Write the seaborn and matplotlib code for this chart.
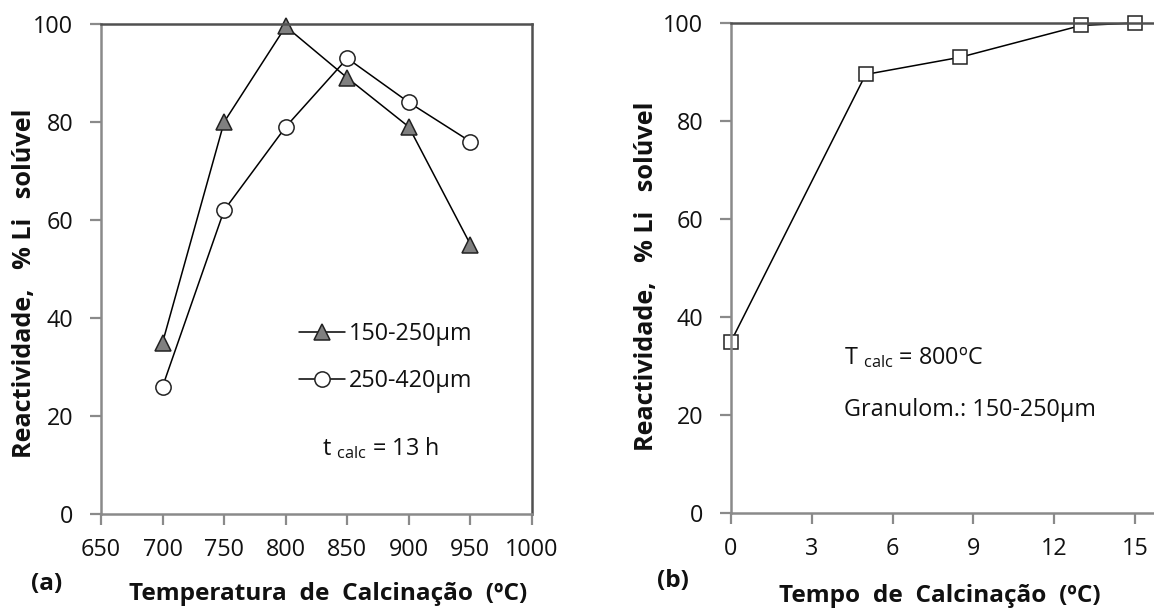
import matplotlib
matplotlib.use("Agg")
import matplotlib.pyplot as plt
import seaborn as sns
import pandas as pd

# ---- data ----
temp_c = [700, 750, 800, 850, 900, 950]
react_150_250 = [35, 80, 99.5, 89, 79, 55]
react_250_420 = [26, 62, 79, 93, 84, 76]
label_150_250 = "150-250μm"
label_250_420 = "250-420μm"

time_h = [0, 5, 8.5, 13, 15]
react_time = [35, 89.5, 93, 99.5, 100]

xticks_a = [650, 700, 750, 800, 850, 900, 950, 1000]
xticks_b = [0, 3, 6, 9, 12, 15]
yticks = [0, 20, 40, 60, 80, 100]

sns.set_theme(style="white")
FONT = ["Open Sans", "DejaVu Sans"]
plt.rcParams["font.family"] = FONT
plt.rcParams["mathtext.fontset"] = "custom"
plt.rcParams["mathtext.rm"] = "Open Sans"
plt.rcParams["mathtext.it"] = "Open Sans"

FS = 16.8
FSL = 17.6
W, H = 1154, 608
fig = plt.figure(figsize=(W / 100, H / 100), dpi=100)

ax_a = fig.add_axes([101 / W, 1 - 514 / H, 431 / W, 490 / H])
ax_b = fig.add_axes([731 / W, 1 - 513 / H, 431 / W, 490 / H])

df_a = pd.DataFrame({"T": temp_c, "r1": react_150_250, "r2": react_250_420})
df_b = pd.DataFrame({"t": time_h, "r": react_time})

sns.lineplot(data=df_a, x="T", y="r1", ax=ax_a, color="black", lw=1.1,
             marker="^", ms=11.5, markerfacecolor="#808080",
             markeredgecolor="#222222", mew=1.1, label=label_150_250,
             clip_on=False)
sns.lineplot(data=df_a, x="T", y="r2", ax=ax_a, color="black", lw=1.1,
             marker="o", ms=11, markerfacecolor="white",
             markeredgecolor="#222222", mew=1.1, label=label_250_420,
             clip_on=False)
sns.lineplot(data=df_b, x="t", y="r", ax=ax_b, color="black", lw=1.1,
             marker="s", ms=10.5, markerfacecolor="white",
             markeredgecolor="#222222", mew=1.1, clip_on=False)

def style(ax, xlim, xticks):
    ax.set_xlim(*xlim)
    ax.set_ylim(0, 100)
    ax.set_xticks(xticks)
    ax.set_yticks(yticks)
    ax.tick_params(axis="both", which="major", direction="out", length=8,
                   width=1.6, color="#8a8a8a", labelsize=FS, pad=9,
                   labelcolor="#111111")
    ax.tick_params(axis="y", pad=12)
    ax.tick_params(bottom=True, left=True)
    for side in ["left", "bottom"]:
        ax.spines[side].set_color("#8a8a8a")
        ax.spines[side].set_linewidth(1.8)
    for side in ["top", "right"]:
        ax.spines[side].set_color("#505050")
        ax.spines[side].set_linewidth(1.8)
    ax.grid(False)
    ax.set_ylabel("Reactividade,   % Li   solúvel", fontsize=FSL + 0.6,
                  fontweight="bold", color="#111111")
    ax.yaxis.label.set_va("center")
    ax.xaxis.label.set_va("center")

style(ax_a, (650, 1000), xticks_a)
style(ax_b, (0, 16), xticks_b)

ax_a.set_xlabel("Temperatura  de  Calcinação  (ºC)", fontsize=FSL,
                fontweight="bold", color="#111111")
ax_b.set_xlabel("Tempo  de  Calcinação  (ºC)", fontsize=FSL,
                fontweight="bold", color="#111111")
ax_a.xaxis.set_label_coords(0.527, -0.163)
ax_b.xaxis.set_label_coords(0.485, -0.17)
ax_a.yaxis.set_label_coords(-0.178, 0.47)
ax_b.yaxis.set_label_coords(-0.195, 0.484)

leg = ax_a.legend(loc="upper left", bbox_to_anchor=(0.459, 0.392),
                  frameon=False, fontsize=FS, handlelength=2.0,
                  handletextpad=0.15, labelspacing=1.0, borderpad=0,
                  borderaxespad=0)
for t in leg.get_texts():
    t.set_color("#111111")

ax_a.text(0.513, 0.12, r"t $_{\mathrm{calc}}$ = 13 h", transform=ax_a.transAxes,
          fontsize=FS, va="baseline", ha="left", color="#111111")
ax_b.text(0.262, 0.318, r"T $_{\mathrm{calc}}$ = 800ºC", transform=ax_b.transAxes,
          fontsize=FS, va="center", ha="left", color="#111111")
ax_b.text(0.262, 0.21, "Granulom.: 150-250μm", transform=ax_b.transAxes,
          fontsize=FS, va="center", ha="left", color="#111111")

fig.text(47 / W, 1 - 584 / H, "(a)", fontsize=FSL, fontweight="bold",
         ha="center", va="center", color="#111111")
fig.text(673 / W, 1 - 581 / H, "(b)", fontsize=FSL, fontweight="bold",
         ha="center", va="center", color="#111111")

fig.savefig("out.png", dpi=100, facecolor="white")
